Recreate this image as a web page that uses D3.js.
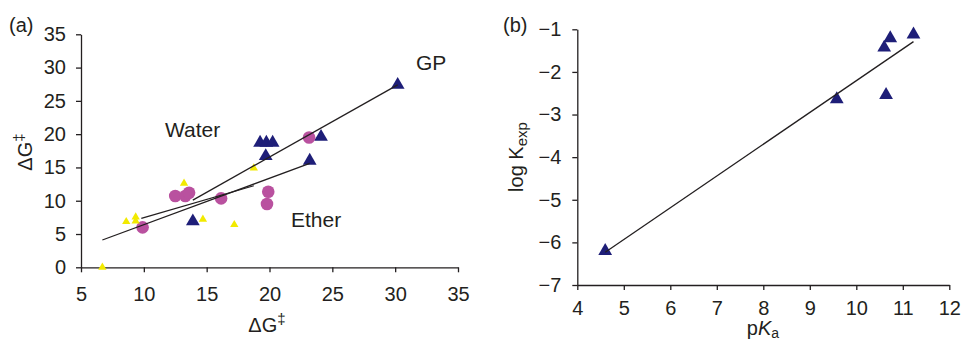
<!DOCTYPE html>
<html>
<head>
<meta charset="utf-8">
<script src="https://cdn.jsdelivr.net/npm/d3@7"></script>
<style>
  html, body { margin: 0; padding: 0; background: #fff; }
  svg text { font-family: "Liberation Sans", Arial, Helvetica, sans-serif; fill: #231f20; }
</style>
</head>
<body>
<svg id="chart" width="963" height="343"></svg>
<script>
// ---------- Panel (a) data ----------
const aTicksX = [5, 10, 15, 20, 25, 30, 35];
const aTicksY = [0, 5, 10, 15, 20, 25, 30, 35];
// GP (navy triangles)
const gpX = [30.2, 19.25, 19.75, 20.25, 19.7, 24.1, 23.2, 13.9];
const gpY = [27.4, 18.7, 18.7, 18.7, 16.7, 19.6, 16.0, 6.9];
// Water (magenta circles)
const waterX = [9.9, 12.5, 13.3, 13.6, 16.15, 19.9, 19.8, 23.15];
const waterY = [6.0, 10.7, 10.7, 11.2, 10.35, 11.35, 9.5, 19.5];
// Ether (yellow triangles)
const etherX = [6.7, 8.6, 9.35, 9.35, 13.2, 14.7, 17.2, 18.75];
const etherY = [0.0, 6.85, 7.55, 6.95, 12.6, 7.2, 6.4, 14.9];
// Fit lines [x1, y1, x2, y2]
const gpLine = [13.9, 10.1, 30.2, 27.4];
const lineLong = [6.7, 4.1, 23.2, 15.6];
const lineShort = [9.8, 7.35, 18.75, 12.25];
const aLabels = ["GP", "Water", "Ether"];

// ---------- Panel (b) data ----------
const bTicksX = [4, 5, 6, 7, 8, 9, 10, 11, 12];
const bTicksY = [-7, -6, -5, -4, -3, -2, -1];
const pKa = [4.6, 9.58, 10.64, 10.6, 10.73, 11.23];
const logK = [-6.2, -2.64, -2.54, -1.43, -1.21, -1.12];
const bLine = [4.6, -6.23, 11.23, -1.29];

// ---------- colours ----------
const navy = "#1e1e78";
const magenta = "#b9519f";
const yellow = "#f2ea00";

const svg = d3.select("#chart");
const FS = 20;
const intFmt = d3.format("d");

function styleAxis(g) {
  g.selectAll("path.domain").attr("stroke", "#231f20").attr("stroke-width", 1.3);
  g.selectAll(".tick line").attr("stroke", "#231f20").attr("stroke-width", 1.3);
  g.selectAll(".tick text").attr("font-size", FS).attr("font-family", "Liberation Sans, Arial, sans-serif").attr("fill", "#231f20");
}

// ================= Panel (a) =================
const ax = d3.scaleLinear().domain([5, 35]).range([81, 458]);
const ay = d3.scaleLinear().domain([0, 35]).range([267.3, 34.3]);

const gA = svg.append("g");
gA.append("g").attr("transform", "translate(0,267.3)")
  .call(d3.axisBottom(ax).tickValues(aTicksX).tickFormat(intFmt).tickSize(5).tickSizeOuter(0).tickPadding(15))
  .call(styleAxis);
gA.append("g").attr("transform", "translate(81,0)")
  .call(d3.axisLeft(ay).tickValues(aTicksY).tickFormat(intFmt).tickSize(5).tickSizeOuter(0).tickPadding(10))
  .call(styleAxis);

const tri = (area) => d3.symbol().type(d3.symbolTriangle).size(area)();

// GP triangles
gA.append("g").selectAll("path").data(d3.range(gpX.length)).join("path")
  .attr("d", tri(82))
  .attr("transform", i => `translate(${ax(gpX[i])},${ay(gpY[i])})`)
  .attr("fill", navy);
// Water circles
gA.append("g").selectAll("circle").data(d3.range(waterX.length)).join("circle")
  .attr("cx", i => ax(waterX[i])).attr("cy", i => ay(waterY[i])).attr("r", 6.3)
  .attr("fill", magenta);
// Ether triangles
gA.append("g").selectAll("path").data(d3.range(etherX.length)).join("path")
  .attr("d", tri(30))
  .attr("transform", i => `translate(${ax(etherX[i])},${ay(etherY[i])})`)
  .attr("fill", yellow);

// lines
[gpLine, lineLong, lineShort].forEach(L => {
  gA.append("line")
    .attr("x1", ax(L[0])).attr("y1", ay(L[1]))
    .attr("x2", ax(L[2])).attr("y2", ay(L[3]))
    .attr("stroke", "#231f20").attr("stroke-width", 1.3);
});

// annotations
const aLabelPos = [[416, 70], [165, 137], [291, 227]];
aLabels.forEach((t, i) => {
  gA.append("text").attr("x", aLabelPos[i][0]).attr("y", aLabelPos[i][1])
    .attr("font-size", 21).text(t);
});

// panel label
svg.append("text").attr("x", 9).attr("y", 32).attr("font-size", FS).text("(a)");

// axis titles
const axT = svg.append("text").attr("x", 267).attr("y", 332).attr("font-size", FS).attr("text-anchor", "middle");
axT.append("tspan").text("ΔG");
axT.append("tspan").attr("dy", -8).attr("font-size", 15).text("‡");

const ayT = svg.append("text").attr("transform", "translate(32,152) rotate(-90)").attr("font-size", FS).attr("text-anchor", "middle");
ayT.append("tspan").text("ΔG");
ayT.append("tspan").attr("dy", -8).attr("font-size", 15).text("‡");

// ================= Panel (b) =================
const bx = d3.scaleLinear().domain([4, 12]).range([577.3, 949.3]);
const by = d3.scaleLinear().domain([-7, -1]).range([285, 29.3]);

const gB = svg.append("g");
gB.append("g").attr("transform", "translate(0,285)")
  .call(d3.axisBottom(bx).tickValues(bTicksX).tickFormat(intFmt).tickSize(5).tickSizeOuter(0).tickPadding(11))
  .call(styleAxis);
gB.append("g").attr("transform", "translate(577.3,0)")
  .call(d3.axisLeft(by).tickValues(bTicksY).tickFormat(intFmt).tickSize(5).tickSizeOuter(0).tickPadding(11))
  .call(styleAxis);

gB.append("g").selectAll("path").data(d3.range(pKa.length)).join("path")
  .attr("d", tri(82))
  .attr("transform", i => `translate(${bx(pKa[i])},${by(logK[i])})`)
  .attr("fill", navy);

gB.append("line")
  .attr("x1", bx(bLine[0])).attr("y1", by(bLine[1]))
  .attr("x2", bx(bLine[2])).attr("y2", by(bLine[3]))
  .attr("stroke", "#231f20").attr("stroke-width", 1.3);

svg.append("text").attr("x", 503).attr("y", 32).attr("font-size", FS).text("(b)");

const bxT = svg.append("text").attr("x", 763).attr("y", 335).attr("font-size", FS).attr("text-anchor", "middle");
bxT.append("tspan").text("p");
bxT.append("tspan").attr("font-style", "italic").text("K");
bxT.append("tspan").attr("dy", 3).attr("font-size", 14).text("a");

const byT = svg.append("text").attr("transform", "translate(523,157) rotate(-90)").attr("font-size", FS).attr("text-anchor", "middle");
byT.append("tspan").text("log K");
byT.append("tspan").attr("dy", 4).attr("font-size", 15).text("exp");
</script>
</body>
</html>
